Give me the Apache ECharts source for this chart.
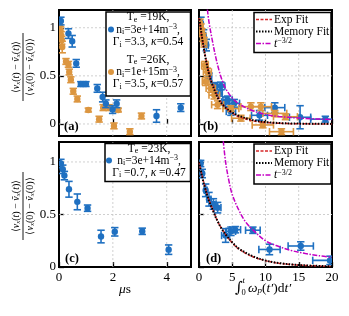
<!DOCTYPE html>
<html><head><meta charset="utf-8">
<script src="https://cdn.jsdelivr.net/npm/echarts@6/dist/echarts.min.js"></script>
<style>html,body{margin:0;padding:0;background:#fff}#c{width:349px;height:316px}</style>
</head><body><div id="c"></div>
<script>
// ---------- DATA ----------
// Panel (a): time in microseconds
const aBlueX  = [0.07, 0.35, 0.49, 0.64, 0.81, 1.00, 1.42, 1.62, 1.74, 1.99, 2.14, 3.62, 4.52];
const aBlueY  = [1.07, 0.94, 0.86, 0.63, 0.415, 0.415, 0.37, 0.28, 0.21, 0.15, 0.21, 0.083, 0.17];
const aBlueYE = [0.04, 0.05, 0.06, 0.04, 0.025, 0.025, 0.04, 0.05, 0.04, 0.04, 0.04, 0.065, 0.04];
const aOrX  = [0.03, 0.06, 0.08, 0.10, 0.12, 0.26, 0.35, 0.38, 0.44, 0.53, 0.68, 1.09, 1.49, 1.64, 1.86, 2.04, 2.20, 2.63, 3.06];
const aOrY  = [1.03, 0.97, 0.92, 0.87, 0.80, 0.65, 0.62, 0.54, 0.46, 0.34, 0.26, 0.145, 0.05, 0.17, 0.17, -0.02, 0.145, -0.08, 0.083];
const aOrYE = [0.04, 0.04, 0.04, 0.04, 0.06, 0.03, 0.03, 0.03, 0.03, 0.03, 0.03, 0.02, 0.03, 0.03, 0.03, 0.03, 0.02, 0.03, 0.03];
// Panel (b): integrated plasma-frequency time
const bBlueX  = [0.3, 0.7, 1.1, 1.5, 2.3, 3.0, 3.3, 4.0, 4.3, 4.8, 5.3, 9.1, 11.4, 15.2, 19.0];
const bBlueY  = [1.05, 0.92, 0.82, 0.49, 0.40, 0.32, 0.395, 0.23, 0.25, 0.13, 0.215, 0.09, 0.17, 0.07, 0.05];
const bBlueXE = [0.2, 0.3, 0.3, 0.4, 0.5, 0.5, 0.6, 0.6, 0.7, 0.7, 0.8, 1.2, 1.5, 1.6, 2.2];
const bBlueYE = [0.06, 0.06, 0.06, 0.04, 0.03, 0.03, 0.04, 0.05, 0.04, 0.04, 0.04, 0.05, 0.05, 0.12, 0.03];
const bOrX  = [0.15, 0.3, 0.45, 0.6, 0.76, 0.9, 1.0, 1.26, 1.77, 2.3, 2.8, 4.8, 6.3, 7.8, 9.3, 9.6, 11.4, 12.4, 13.0];
const bOrY  = [1.05, 1.0, 0.95, 0.9, 0.85, 0.61, 0.44, 0.54, 0.37, 0.30, 0.20, 0.16, 0.06, 0.18, 0.18, -0.01, 0.11, -0.08, 0.075];
const bOrXE = [0.2, 0.3, 0.3, 0.3, 0.4, 0.5, 0.5, 0.6, 0.7, 0.8, 0.9, 1.2, 1.4, 1.5, 1.6, 1.6, 1.8, 1.8, 1.8];
const bOrYE = [0.04, 0.04, 0.04, 0.04, 0.05, 0.04, 0.04, 0.04, 0.04, 0.04, 0.04, 0.03, 0.03, 0.04, 0.04, 0.03, 0.03, 0.03, 0.03];
const bFitX   = [0, 0.5, 1, 1.5, 2, 3, 4, 5, 6, 8, 10, 12, 15, 20];
const bExpY   = [1.10, 0.88, 0.69, 0.53, 0.42, 0.26, 0.17, 0.115, 0.075, 0.035, 0.016, 0.007, 0.002, 0.0];
const bMemY   = [1.12, 0.88, 0.68, 0.52, 0.41, 0.25, 0.17, 0.12, 0.085, 0.042, 0.02, 0.01, 0.004, 0.001];
const bPowX   = [1.26, 1.5, 2, 2.5, 3, 3.5, 4, 5, 6, 8, 10, 12, 15, 20];
const bPowY   = [1.19, 1.06, 0.87, 0.70, 0.56, 0.45, 0.37, 0.27, 0.21, 0.14, 0.10, 0.078, 0.062, 0.045];
// Panel (c): time in microseconds
const cX  = [0.07, 0.14, 0.20, 0.37, 0.68, 1.06, 1.56, 2.07, 3.09, 4.07];
const cY  = [0.985, 0.93, 0.87, 0.74, 0.62, 0.56, 0.29, 0.335, 0.34, 0.165];
const cYE = [0.04, 0.04, 0.04, 0.075, 0.075, 0.03, 0.06, 0.04, 0.03, 0.045];
// Panel (d)
const dX  = [0.25, 0.5, 1.0, 1.5, 2.17, 2.8, 4.0, 4.8, 5.45, 8.1, 10.6, 15.3, 19.7];
const dY  = [0.985, 0.89, 0.73, 0.645, 0.60, 0.565, 0.30, 0.34, 0.355, 0.35, 0.167, 0.20, 0.063];
const dXE = [0.1, 0.15, 0.2, 0.3, 0.4, 0.5, 0.6, 0.7, 0.8, 1.1, 1.6, 1.9, 2.6];
const dYE = [0.03, 0.04, 0.06, 0.065, 0.05, 0.05, 0.065, 0.04, 0.03, 0.03, 0.05, 0.04, 0.04];
const dFitX = [0, 0.5, 1, 1.5, 2, 3, 4, 5, 6, 8, 10, 12, 15, 20];
const dExpY = [1.0, 0.86, 0.74, 0.64, 0.56, 0.41, 0.31, 0.23, 0.17, 0.10, 0.06, 0.036, 0.018, 0.005];
const dMemY = [1.0, 0.85, 0.73, 0.63, 0.55, 0.41, 0.31, 0.235, 0.175, 0.105, 0.062, 0.038, 0.019, 0.006];
const dPowX = [3.65, 4, 4.5, 5, 6, 7, 8, 10, 12, 14, 16, 18, 20];
const dPowY = [1.2, 1.0, 0.82, 0.69, 0.54, 0.43, 0.36, 0.25, 0.195, 0.155, 0.128, 0.108, 0.092];
// Ticks
const yTicksTop = [0, 0.5, 1];
const yTicksBot = [0, 0.5, 1];
const xTicksUs  = [0, 2, 4];
const xTicksWp  = [0, 5, 10, 15, 20];
const xGridUs = [2, 4];
const xGridWp = [5, 10, 15];
const yGridTop = [0, 0.5, 1];
const yGridBot = [0.5, 1];

// ---------- STYLE ----------
const F = 'Liberation Serif';
const BLUE = '#1f70c1', ORANGE = '#dc9640', RED = '#d62728', MAG = '#c400c4';

const grids = [
  {left: 59, top: 10, width: 132, height: 126},
  {left: 199, top: 10, width: 133, height: 126},
  {left: 59, top: 142, width: 132, height: 125},
  {left: 199, top: 142, width: 133, height: 125}
].map(g => Object.assign(g, {show: true, borderColor: '#000', borderWidth: 2, backgroundColor: 'rgba(0,0,0,0)', outerBoundsMode: 'none', containLabel: false}));

function xAx(gi, min, max, ticks, labels) {
  return {gridIndex: gi, type: 'value', min, max,
    axisLine: {show: false}, splitLine: {show: false},
    axisTick: {show: true, inside: true, length: 5, customValues: ticks, lineStyle: {color: '#000', width: 1.3}},
    axisLabel: {show: !!labels, customValues: labels || ticks, fontFamily: F, fontSize: 13, color: '#000', margin: 4}};
}
function yAx(gi, min, max, ticks, labels) {
  return {gridIndex: gi, type: 'value', min, max,
    axisLine: {show: false}, splitLine: {show: false},
    axisTick: {show: true, inside: true, length: 5, customValues: ticks, lineStyle: {color: '#000', width: 1.3}},
    axisLabel: {show: !!labels, customValues: labels || ticks, fontFamily: F, fontSize: 13, color: '#000', margin: 3}};
}

function hLines(gi, vals) {
  return {type: 'custom', xAxisIndex: gi, yAxisIndex: gi, z: 1, silent: true,
    data: vals.map(v => [0, v]),
    renderItem(params, api) {
      const cs = params.coordSys;
      const y = api.coord([api.value(0), api.value(1)])[1];
      return {type: 'line', shape: {x1: cs.x, y1: y, x2: cs.x + cs.width, y2: y},
        style: {stroke: '#c4c4c4', lineWidth: 0.8, lineDash: [2, 2]}};
    }};
}
function vLines(gi, vals) {
  return {type: 'custom', xAxisIndex: gi, yAxisIndex: gi, z: 1, silent: true,
    data: vals.map(v => [v, 0.5]),
    renderItem(params, api) {
      const cs = params.coordSys;
      const x = api.coord([api.value(0), api.value(1)])[0];
      return {type: 'line', shape: {x1: x, y1: cs.y, x2: x, y2: cs.y + cs.height},
        style: {stroke: '#c4c4c4', lineWidth: 0.8, lineDash: [2, 2]}};
    }};
}
function errSeries(gi, xs, ys, xes, yes, color, z) {
  return {type: 'custom', xAxisIndex: gi, yAxisIndex: gi, z, clip: true, silent: true,
    data: xs.map((x, i) => [x, ys[i], xes ? xes[i] : 0, yes[i]]),
    renderItem(params, api) {
      const x = api.value(0), y = api.value(1), ex = api.value(2), ey = api.value(3);
      const c = api.coord([x, y]);
      const t = api.coord([x, y + ey])[1], b = api.coord([x, y - ey])[1];
      const st = {stroke: color, lineWidth: 1.6};
      const cw = 3.7;
      const ch = [
        {type: 'line', shape: {x1: c[0], y1: t, x2: c[0], y2: b}, style: st},
        {type: 'line', shape: {x1: c[0] - cw, y1: t, x2: c[0] + cw, y2: t}, style: st},
        {type: 'line', shape: {x1: c[0] - cw, y1: b, x2: c[0] + cw, y2: b}, style: st}];
      if (ex > 0) {
        const l = api.coord([x - ex, y])[0], r = api.coord([x + ex, y])[0];
        ch.push({type: 'line', shape: {x1: l, y1: c[1], x2: r, y2: c[1]}, style: st},
          {type: 'line', shape: {x1: l, y1: c[1] - cw, x2: l, y2: c[1] + cw}, style: st},
          {type: 'line', shape: {x1: r, y1: c[1] - cw, x2: r, y2: c[1] + cw}, style: st});
      }
      ch.push({type: 'circle', shape: {cx: c[0], cy: c[1], r: 3.2}, style: {fill: color}});
      return {type: 'group', children: ch};
    }};
}
function curve(gi, xs, ys, color, width, dash, z) {
  return {type: 'line', xAxisIndex: gi, yAxisIndex: gi, z, silent: true, showSymbol: false, symbol: 'none',
    smooth: 0.35, clip: true, data: xs.map((x, i) => [x, ys[i]]),
    lineStyle: {color, width, type: dash}};
}

// rich text styles
const rich = {
  m: {fontFamily: F, fontSize: 11.5, lineHeight: 13, verticalAlign: 'middle', color: '#000'},
  i: {fontFamily: F, fontSize: 11.5, fontStyle: 'italic', lineHeight: 13, verticalAlign: 'middle', color: '#000'},
  s: {fontFamily: F, fontSize: 8, lineHeight: 7, verticalAlign: 'bottom', color: '#000'},
  si: {fontFamily: F, fontSize: 8, fontStyle: 'italic', lineHeight: 7, verticalAlign: 'bottom', color: '#000'},
  p: {fontFamily: F, fontSize: 8, lineHeight: 6, verticalAlign: 'top', color: '#000'},
  pi: {fontFamily: F, fontSize: 8, fontStyle: 'italic', lineHeight: 6, verticalAlign: 'top', color: '#000'}
};
const richS = {
  m: {fontFamily: F, fontSize: 10, lineHeight: 11, verticalAlign: 'middle', color: '#000'},
  i: {fontFamily: F, fontSize: 10, fontStyle: 'italic', lineHeight: 11, verticalAlign: 'middle', color: '#000'},
  s: {fontFamily: F, fontSize: 7, fontStyle: 'italic', lineHeight: 6, verticalAlign: 'bottom', color: '#000'}
};
const richL = {
  m: {fontFamily: F, fontSize: 13.5, lineHeight: 15, verticalAlign: 'middle', color: '#000'},
  i: {fontFamily: F, fontSize: 13.5, fontStyle: 'italic', lineHeight: 15, verticalAlign: 'middle', color: '#000'},
  si: {fontFamily: F, fontSize: 9, fontStyle: 'italic', lineHeight: 8, verticalAlign: 'bottom', color: '#000'}
};
function txt(x, y, text, r, align) {
  return {type: 'text', x, y, z: 100, silent: true,
    style: {text, rich: r || rich, align: align || 'center', verticalAlign: 'middle', fill: '#000'}};
}
function rect(x, y, w, h) {
  return {type: 'rect', z: 99, silent: true, shape: {x, y, width: w, height: h},
    style: {fill: '#fff', stroke: '#000', lineWidth: 1.5}};
}
function dot(x, y, color) {
  return {type: 'circle', z: 100, silent: true, shape: {cx: x, cy: y, r: 3}, style: {fill: color}};
}
function seg(x1, y1, x2, y2, color, w, dash) {
  return {type: 'line', z: 100, silent: true, shape: {x1, y1, x2, y2}, style: {stroke: color, lineWidth: w, lineDash: dash}};
}
function fitLegend(x, y) {
  return [
    rect(x, y, 77, 40),
    seg(x + 2, y + 7, x + 18, y + 7, RED, 1.5, [3, 1.5]),
    seg(x + 2, y + 19, x + 18, y + 19, '#000', 2, [1.5, 1.5]),
    seg(x + 2, y + 31, x + 18, y + 31, MAG, 1.5, [5, 1.5, 1.5, 1.5]),
    txt(x + 20, y + 7, '{m|Exp Fit}', rich, 'left'),
    txt(x + 20, y + 19, '{m|Memory Fit}', rich, 'left'),
    txt(x + 20, y + 31, '{i|t}{p|−3/2}', rich, 'left')
  ];
}
function yLabel(cy) {
  return {type: 'group', x: 23, y: cy, rotation: Math.PI / 2, z: 100, silent: true, children: [
    {type: 'text', x: 0, y: -6.5, z: 100, style: {text: '{m|⟨}{i|v}{s|x}{m|(}{i|t}{m|) − }{i|ṽ}{s|x}{m|(}{i|t}{m|)⟩}', rich: richS, align: 'center', verticalAlign: 'middle'}},
    {type: 'line', z: 100, shape: {x1: -34, y1: 0, x2: 34, y2: 0}, style: {stroke: '#000', lineWidth: 0.9}},
    {type: 'text', x: 0, y: 7, z: 100, style: {text: '{m|⟨}{i|v}{s|x}{m|(0) − }{i|ṽ}{s|x}{m|(0)⟩}', rich: richS, align: 'center', verticalAlign: 'middle'}}
  ]};
}
function panelTag(x, y, t) {
  return {type: 'text', x, y, z: 100, silent: true,
    style: {text: t, font: 'bold 12.5px "Liberation Serif"', fill: '#000', verticalAlign: 'middle', align: 'left'}};
}

const graphics = [
  // legend (a)
  rect(106, 12, 84.5, 84),
  txt(148, 17, '{m|T}{s|e}{m| =19K,}'),
  dot(111, 29.5, BLUE),
  txt(148, 29.5, '{m|n}{s|i}{m|=3e+14m}{p|−3}{m|,}'),
  txt(148, 42, '{m|Γ}{s|i}{m| =3.3, }{i|κ}{m|=0.54}'),
  txt(148, 59.5, '{m|T}{s|e}{m| =26K,}'),
  dot(111, 72, ORANGE),
  txt(148, 72, '{m|n}{s|i}{m|=1e+15m}{p|−3}{m|,}'),
  txt(148, 84, '{m|Γ}{s|i}{m| =3.5, }{i|κ}{m|=0.57}'),
  // legend (c)
  rect(105, 143.5, 85.5, 38),
  txt(149, 148.5, '{m|T}{s|e}{m| =23K,}'),
  dot(109, 160.5, BLUE),
  txt(149, 160.5, '{m|n}{s|i}{m|=3e+14m}{p|−3}{m|,}'),
  txt(149, 172.5, '{m|Γ}{s|i}{m| =0.7, }{i|κ}{m| =0.47}'),
  // fit legends
  ...fitLegend(254, 12.5),
  ...fitLegend(254, 144),
  // y labels
  yLabel(67), yLabel(206),
  // panel tags
  panelTag(64, 127, '(a)'), panelTag(203, 127, '(b)'),
  panelTag(65, 258.5, '(c)'), panelTag(206, 258.5, '(d)'),
  // x axis names
  txt(125, 289, '{i|μ}{m|s}', richL),
  {type: 'text', x: 239, y: 288, z: 100, silent: true, style: {text: '∫', font: 'italic 15px "DejaVu Serif"', fill: '#000', align: 'center', verticalAlign: 'middle'}},
  {type: 'text', x: 242.5, y: 281, z: 100, silent: true, style: {text: 't', font: 'italic 8.5px "Liberation Serif"', fill: '#000', align: 'left', verticalAlign: 'middle'}},
  {type: 'text', x: 241.5, y: 293, z: 100, silent: true, style: {text: '0', font: '8.5px "Liberation Serif"', fill: '#000', align: 'left', verticalAlign: 'middle'}},
  txt(248, 288, '{i|ω}{si|p}{m|(}{i|t′}{m|)d}{i|t′}', richL, 'left')
];

const option = {
  animation: false,
  backgroundColor: '#fff',
  grid: grids,
  xAxis: [
    xAx(0, 0, 4.9, xTicksUs, null),
    xAx(1, 0, 20, xTicksWp, null),
    xAx(2, 0, 4.9, xTicksUs, xTicksUs),
    xAx(3, 0, 20, xTicksWp, xTicksWp)
  ],
  yAxis: [
    yAx(0, -0.125, 1.185, yTicksTop, yTicksTop),
    yAx(1, -0.125, 1.185, yTicksTop, null),
    yAx(2, 0, 1.19, yTicksBot, yTicksBot),
    yAx(3, 0, 1.19, yTicksBot, null)
  ],
  series: [
    hLines(0, yGridTop), vLines(0, xGridUs),
    hLines(1, yGridTop), vLines(1, xGridWp),
    hLines(2, yGridBot), vLines(2, xGridUs),
    hLines(3, yGridBot), vLines(3, xGridWp),
    errSeries(0, aOrX, aOrY, null, aOrYE, ORANGE, 3),
    errSeries(0, aBlueX, aBlueY, null, aBlueYE, BLUE, 4),
    errSeries(1, bBlueX, bBlueY, bBlueXE, bBlueYE, BLUE, 3),
    errSeries(1, bOrX, bOrY, bOrXE, bOrYE, ORANGE, 4),
    curve(1, bFitX, bExpY, RED, 1.5, [3, 1.5], 5),
    curve(1, bFitX, bMemY, '#000', 2, [1.5, 1.5], 6),
    curve(1, bPowX, bPowY, MAG, 1.5, [5, 1.5, 1.5, 1.5], 7),
    errSeries(2, cX, cY, null, cYE, BLUE, 3),
    errSeries(3, dX, dY, dXE, dYE, BLUE, 3),
    curve(3, dFitX, dExpY, RED, 1.5, [3, 1.5], 5),
    curve(3, dFitX, dMemY, '#000', 2, [1.5, 1.5], 6),
    curve(3, dPowX, dPowY, MAG, 1.5, [5, 1.5, 1.5, 1.5], 7)
  ],
  graphic: {elements: graphics}
};
const chart = echarts.init(document.getElementById('c'), null, {renderer: 'canvas'});
chart.setOption(option);
</script></body></html>
